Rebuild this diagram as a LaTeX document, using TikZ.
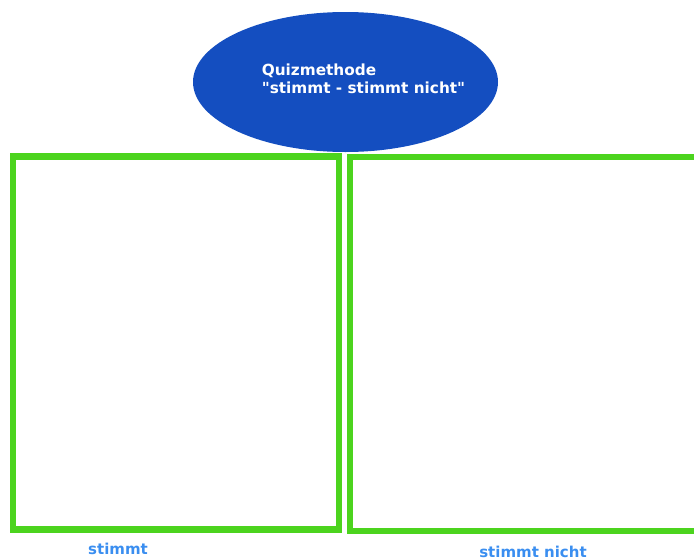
\documentclass[tikz,border=0pt]{standalone}
\usepackage{fontspec}
\setsansfont{DejaVu Sans}
\usepackage{tikz}
\usetikzlibrary{positioning,shapes.geometric}
\definecolor{quizblue}{RGB}{20,78,192}
\definecolor{quizgreen}{RGB}{76,212,30}
\definecolor{labelblue}{RGB}{58,142,240}
\tikzset{
  titel/.style={
    ellipse,
    fill=quizblue,
    minimum width=305pt,
    minimum height=140pt,
    inner sep=0pt
  },
  titeltext/.style={
    text=white,
    align=left,
    inner sep=0pt,
    font=\sffamily\bfseries\fontsize{15.3}{18}\selectfont
  },
  kasten/.style={
    draw=quizgreen,
    line width=6.5pt,
    inner sep=0pt
  },
  beschriftung/.style={
    text=labelblue,
    inner sep=0pt,
    font=\sffamily\bfseries\fontsize{15}{17}\selectfont
  }
}

\begin{document}
\begin{tikzpicture}[x=1pt,y=-1pt]
\useasboundingbox (0,0) rectangle (694,560);
\node[kasten,minimum width=326pt,minimum height=373pt] (stimmt) at (176,343) {};
\node[kasten,minimum width=350pt,minimum height=374pt] (nicht) at (525,344) {};
\node[titel] (quiz) at (345.5,82) {};
\node[titeltext] (quiztext) at (363.5,79) {Quizmethode\\\textquotedbl stimmt - stimmt nicht\textquotedbl};
\node[beschriftung] (lstimmt) at (118,549) {stimmt};
\node[beschriftung] (lnicht) at (533,552) {stimmt nicht};
\end{tikzpicture}
\end{document}
